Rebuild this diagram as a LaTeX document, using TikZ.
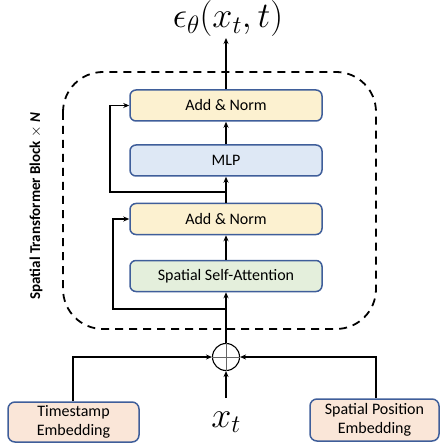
\RequirePackage{fix-cm}
\documentclass[tikz,border=0pt]{standalone}
\usepackage{fontspec}
\setmainfont{Carlito}
\usetikzlibrary{arrows.meta}
\definecolor{boxline}{HTML}{3F5E9A}
\definecolor{yel}{HTML}{FCF1D0}
\definecolor{blu}{HTML}{DEE8F5}
\definecolor{grn}{HTML}{E4EFDC}
\definecolor{pch}{HTML}{FAE6D8}
\begin{document}
\begin{tikzpicture}[x=1pt,y=-1pt,
  blk/.style={draw=boxline,line width=1.5pt,rounded corners=6pt,minimum width=192pt,minimum height=31pt,inner sep=0pt,font=\fontsize{16}{19}\selectfont},
  emb/.style={draw=boxline,line width=1.5pt,rounded corners=7pt,minimum height=40pt,inner sep=0pt,align=center,font=\fontsize{16}{18.5}\selectfont},
  arr/.style={line width=1.1pt,-{Stealth[length=6pt,width=5pt]}},
  ln/.style={line width=1.1pt}]
\useasboundingbox (0,0) rectangle (440,443);
% dashed block
\draw[line width=1.8pt,dash pattern=on 8pt off 6pt,rounded corners=40pt] (63,72) rectangle (376,329);
\node[rotate=90,font=\fontsize{15}{17}\selectfont\bfseries] (lbl) at (36,206) {Spatial Transformer Block $\times$ \textbf{\textit{N}}};
% blocks
\node[blk,fill=yel] (an1) at (226,105.5) {Add \& Norm};
\node[blk,fill=blu] (mlp) at (226,160.5) {MLP};
\node[blk,fill=yel] (an2) at (226,219) {Add \& Norm};
\node[blk,fill=grn] (att) at (226,276) {Spatial Self-Attention};
% output
\node[font=\fontsize{36}{40}\selectfont] (out) at (228,19) {$\epsilon_\theta(x_t,t)$};
\coordinate (outp) at (226,38);
% plus
\node[draw,circle,line width=1.1pt,minimum size=27pt,inner sep=0pt] (plus) at (226,357) {};
\draw[gray!80!black,line width=0.9pt] (plus.north) -- (plus.south) (plus.west) -- (plus.east);
\node[font=\fontsize{36}{40}\selectfont] (xt) at (226,422) {$x_t$};
\coordinate (xtp) at (226,398);
% embeddings
\node[emb,fill=pch,minimum width=131pt] (ts) at (73.5,422) {Timestamp\\Embedding};
\node[emb,fill=pch,minimum width=129pt,minimum height=42pt] (sp) at (374.5,420) {Spatial Position\\Embedding};
% main flow
\draw[arr] (an1.north) -- (outp);
\draw[arr] (mlp.north) -- (an1.south);
\draw[arr] (an2.north) -- (mlp.south);
\draw[arr] (att.north) -- (an2.south);
\draw[arr] (plus.north) -- (att.south);
\draw[arr] (xtp) -- (plus.south);
% skips
\coordinate (j1) at (226,192);
\coordinate (j2) at (226,309);
\draw[arr] (j1) -- (110,192) |- (an1.west);
\draw[arr] (j2) -- (113,309) |- (an2.west);
% embedding inputs
\draw[arr] (ts.north -| 73,0) |- (plus.west);
\draw[arr] (sp.north -| 376,0) |- (plus.east);
\end{tikzpicture}
\end{document}
